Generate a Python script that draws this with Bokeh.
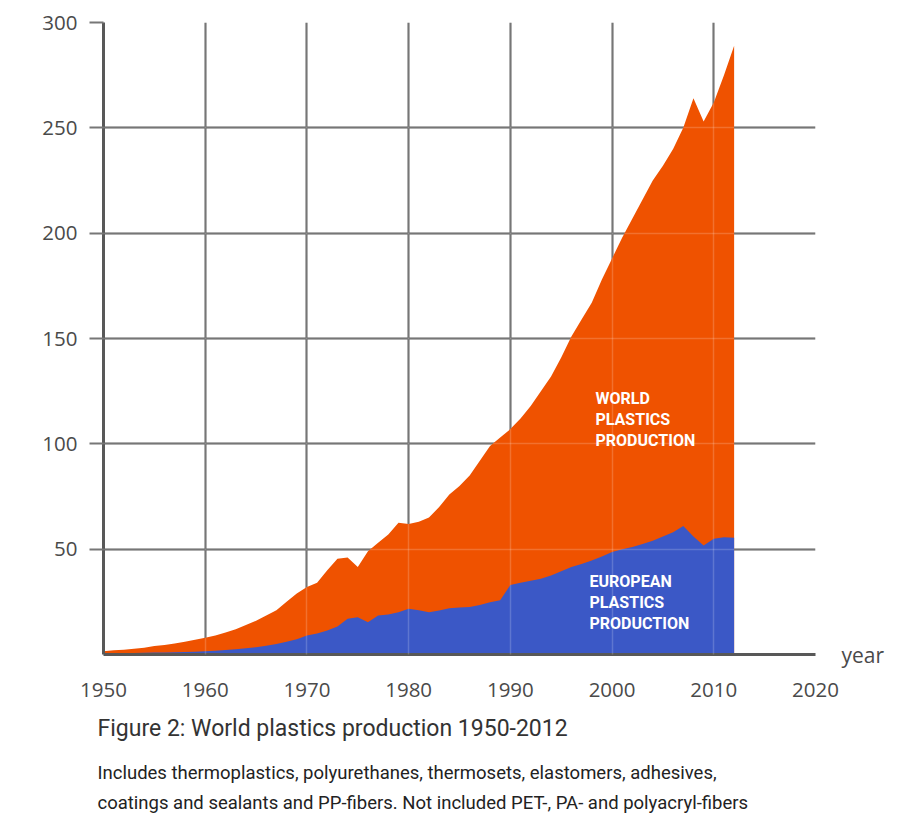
from bokeh.plotting import figure
from bokeh.models import Range1d, FixedTicker, Grid, Label, ColumnDataSource, Title, LinearAxis
from bokeh.embed import file_html
from bokeh.resources import INLINE

years = list(range(1950, 2013))
world = [1.5, 2.0, 2.3, 2.7, 3.2, 4.0, 4.5, 5.2, 6.0, 7.0,
         8.0, 9.0, 10.5, 12.0, 14.0, 16.0, 18.5, 21.0, 25.0, 29.0,
         32.0, 34.0, 40.0, 45.5, 46.0, 41.5, 49.0, 53.0, 57.0, 62.5,
         62.0, 63.0, 65.0, 70.0, 76.0, 80.0, 85.0, 92.0, 99.0, 103.0,
         107.0, 112.0, 118.0, 125.0, 132.0, 141.0, 151.0, 159.0, 167.0, 178.0,
         188.0, 198.0, 207.0, 216.0, 225.0, 232.0, 240.0, 250.0, 264.0, 253.0,
         262.0, 275.0, 289.0]
europe = [0.4, 0.5, 0.6, 0.7, 0.8, 0.9, 1.0, 1.1, 1.2, 1.3,
          1.5, 1.8, 2.1, 2.5, 3.0, 3.5, 4.2, 5.0, 6.0, 7.2,
          9.0, 10.0, 11.4, 13.3, 17.0, 17.7, 15.3, 18.5, 19.0, 20.0,
          21.7, 21.0, 20.0, 20.9, 22.0, 22.3, 22.5, 23.5, 24.8, 25.8,
          33.0, 34.0, 35.0, 36.0, 37.5, 39.5, 41.5, 43.0, 44.6, 46.5,
          48.6, 50.0, 51.0, 52.5, 54.0, 56.0, 58.0, 61.0, 56.0, 51.7,
          55.0, 55.7, 55.4]

x_ticks = [1950, 1960, 1970, 1980, 1990, 2000, 2010, 2020]
y_ticks = [50, 100, 150, 200, 250, 300]
grid_x = [1960, 1970, 1980, 1990, 2000, 2010]

world_label = ["WORLD", "PLASTICS", "PRODUCTION"]
europe_label = ["EUROPEAN", "PLASTICS", "PRODUCTION"]
caption_title = "Figure 2:  World plastics production 1950-2012"
caption_lines = ["Includes thermoplastics, polyurethanes, thermosets, elastomers, adhesives,",
                 "coatings and sealants and PP-fibers. Not included PET-, PA- and polyacryl-fibers"]

ORANGE = "#EF5200"
BLUE = "#3B58C6"
GREY = "#585858"
TICK_FONT = "Open Sans"
CAP_FONT = "Roboto"

p = figure(width=910, height=816, output_backend="svg", toolbar_location=None,
           x_range=Range1d(1950, 2020), y_range=Range1d(0, 300),
           min_border_left=103, min_border_right=95, min_border_top=22, min_border_bottom=162)
p.outline_line_color = None
p.background_fill_color = "white"

src = ColumnDataSource(dict(x=years, world=world, europe=europe))
p.varea(x="x", y1=0, y2="world", source=src, fill_color=ORANGE)
p.varea(x="x", y1=0, y2="europe", source=src, fill_color=BLUE)

# axes
p.xaxis.ticker = FixedTicker(ticks=x_ticks)
p.yaxis.ticker = FixedTicker(ticks=y_ticks)
for ax in (p.xaxis[0], p.yaxis[0]):
    ax.axis_line_color = GREY
    ax.axis_line_width = 3
    ax.minor_tick_line_color = None
    ax.major_label_text_font = TICK_FONT
    ax.major_label_text_font_size = "20.5px"
    ax.major_label_text_color = "#4a4a4a"
p.xaxis.major_tick_line_color = None
p.xaxis.major_tick_out = 0
p.xaxis.major_tick_in = 0
p.xaxis.major_label_standoff = 28
p.yaxis.major_tick_line_color = "#777777"
p.yaxis.major_tick_line_width = 2
p.yaxis.major_tick_out = 14
p.yaxis.major_tick_in = 0
p.yaxis.major_label_standoff = 12

# "year" note as the label of a bare right-hand axis
yr_axis = LinearAxis(axis_label="year", ticker=FixedTicker(ticks=[]),
                     axis_line_color=None, major_tick_line_color=None,
                     minor_tick_line_color=None, major_label_text_font_size="0px",
                     axis_label_text_font=TICK_FONT, axis_label_text_font_size="21px",
                     axis_label_text_font_style="normal", axis_label_text_color="#4a4a4a",
                     axis_label_orientation="horizontal", axis_label_align="start",
                     axis_label_standoff=26)
p.add_layout(yr_axis, "right")

# grids
p.xgrid.ticker = FixedTicker(ticks=grid_x)
p.ygrid.ticker = FixedTicker(ticks=y_ticks)
for g in (p.xgrid[0], p.ygrid[0]):
    g.grid_line_color = GREY
    g.grid_line_width = 2
    g.level = "underlay"

# faint light grid over the filled areas
ov_x = Grid(dimension=0, ticker=FixedTicker(ticks=grid_x), grid_line_color="white",
            grid_line_alpha=0.18, grid_line_width=1.5, level="overlay")
ov_y = Grid(dimension=1, ticker=FixedTicker(ticks=y_ticks[:-1]), grid_line_color="white",
            grid_line_alpha=0.18, grid_line_width=1.5, level="overlay")
p.add_layout(ov_x)
p.add_layout(ov_y)

# area labels
px_per_val = 632 / 300.0
px_per_year = 712 / 70.0

def block(lines, x0, y0, dy):
    for i, t in enumerate(lines):
        p.add_layout(Label(x=x0, y=y0 - i * dy, text=t, text_color="white",
                           text_font="Roboto", text_font_style="bold", text_font_size="16px",
                           text_baseline="middle", text_align="left"))

block(world_label, 1950 + (595 - 103) / px_per_year, (654 - 398) / px_per_val, 21 / px_per_val)
block(europe_label, 1950 + (589 - 103) / px_per_year, (654 - 581) / px_per_val, 21 / px_per_val)

# caption under the chart
p.add_layout(Title(text=caption_title, align="left", offset=-6, standoff=27,
                   text_font=CAP_FONT, text_font_size="23px", text_font_style="normal",
                   text_color="#333333"), "below")
for line, so in zip(caption_lines, [9, 2]):
    p.add_layout(Title(text=line, align="left", offset=-6, standoff=so,
                       text_font=CAP_FONT, text_font_size="18.5px", text_font_style="normal",
                       text_color="#222222"), "below")

open("out.html", "w").write(file_html(p, INLINE))
